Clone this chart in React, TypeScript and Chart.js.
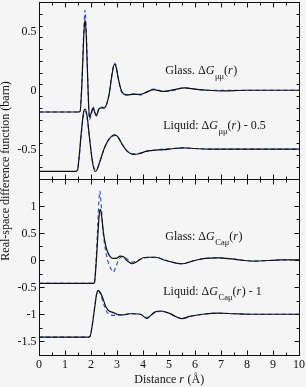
import { useEffect, useRef } from 'react';
import { Chart, registerables } from 'chart.js';
Chart.register(...registerables);

// ---- data: [r (Å), value] ----
const glassMuMuBlack: [number, number][] = [
  [0, -0.185], [1.5, -0.185], [1.58, -0.18], [1.65, 0.05], [1.72, 0.45], [1.77, 0.6], [1.82, 0.45],
  [1.88, 0.05], [1.94, -0.23], [2.0, -0.2], [2.08, -0.15], [2.15, -0.19], [2.22, -0.21], [2.3, -0.16],
  [2.4, -0.15], [2.5, -0.15], [2.6, -0.12], [2.7, -0.03], [2.8, 0.12], [2.9, 0.22], [2.95, 0.21],
  [3.05, 0.1], [3.15, 0.01], [3.25, -0.03], [3.4, -0.04], [3.6, -0.035], [3.9, -0.035], [4.1, -0.02],
  [4.4, 0.005], [4.8, -0.01], [5.2, 0.005], [5.6, 0.02], [6.0, 0.01], [6.5, 0.0], [7, -0.005],
  [8, 0.0], [9, 0.0], [10, 0.0],
];
const glassMuMuBlue: [number, number][] = [
  [0, -0.185], [1.5, -0.185], [1.58, -0.18], [1.65, 0.08], [1.72, 0.5], [1.77, 0.68], [1.82, 0.5],
  [1.88, 0.05], [1.94, -0.25], [2.0, -0.22], [2.08, -0.14], [2.15, -0.2], [2.22, -0.22], [2.3, -0.16],
  [2.4, -0.14], [2.5, -0.15], [2.6, -0.12], [2.7, -0.03], [2.8, 0.13], [2.9, 0.23], [2.95, 0.22],
  [3.05, 0.1], [3.15, 0.0], [3.25, -0.035], [3.4, -0.04], [3.6, -0.03], [3.9, -0.04], [4.1, -0.02],
  [4.4, 0.01], [4.8, -0.01], [5.2, 0.0], [5.6, 0.02], [6.0, 0.01], [6.5, 0.0], [7, 0.0],
  [8, 0.0], [9, 0.0], [10, 0.0],
];
const liquidMuMuBlack: [number, number][] = [
  [0, -0.69], [1.4, -0.69], [1.48, -0.68], [1.55, -0.55], [1.63, -0.35], [1.72, -0.18], [1.78, -0.16],
  [1.85, -0.22], [1.95, -0.42], [2.05, -0.6], [2.15, -0.69], [2.22, -0.68], [2.35, -0.6], [2.5, -0.5],
  [2.65, -0.43], [2.8, -0.39], [2.92, -0.38], [3.05, -0.4], [3.2, -0.46], [3.4, -0.52], [3.62, -0.545],
  [3.85, -0.54], [4.1, -0.52], [4.4, -0.51], [4.8, -0.505], [5.2, -0.495], [5.55, -0.49], [6.0, -0.495],
  [6.5, -0.5], [7.5, -0.5], [10, -0.5],
];
const liquidMuMuBlue: [number, number][] = [
  [0, -0.69], [1.4, -0.69], [1.48, -0.68], [1.55, -0.56], [1.63, -0.37], [1.72, -0.2], [1.78, -0.18],
  [1.85, -0.23], [1.95, -0.42], [2.05, -0.59], [2.15, -0.67], [2.22, -0.67], [2.35, -0.6], [2.5, -0.5],
  [2.65, -0.43], [2.8, -0.395], [2.92, -0.385], [3.05, -0.405], [3.2, -0.46], [3.4, -0.52], [3.62, -0.54],
  [3.85, -0.535], [4.1, -0.52], [4.4, -0.51], [4.8, -0.5], [5.2, -0.495], [5.55, -0.49], [6.0, -0.495],
  [6.5, -0.5], [7.5, -0.5], [10, -0.5],
];
const glassCaMuBlack: [number, number][] = [
  [0, -0.43], [2.1, -0.43], [2.13, -0.42], [2.2, -0.05], [2.27, 0.5], [2.32, 0.86], [2.36, 0.93],
  [2.41, 0.8], [2.48, 0.5], [2.55, 0.3], [2.62, 0.17], [2.72, 0.07], [2.84, 0.03], [2.97, 0.03],
  [3.12, 0.07], [3.25, 0.06], [3.4, -0.02], [3.6, -0.07], [3.8, -0.02], [4.0, 0.04], [4.2, 0.05],
  [4.5, 0.05], [4.8, 0.0], [5.2, -0.05], [5.5, -0.07], [5.9, -0.02], [6.4, 0.03], [6.9, 0.04],
  [7.4, 0.02], [7.9, -0.01], [8.3, -0.02], [8.8, -0.01], [9.3, 0.0], [10, 0.0],
];
const glassCaMuBlue: [number, number][] = [
  [0, -0.43], [2.1, -0.43], [2.13, -0.42], [2.19, -0.05], [2.25, 0.55], [2.3, 1.05], [2.34, 1.27],
  [2.38, 1.1], [2.45, 0.6], [2.55, 0.2], [2.65, -0.02], [2.75, -0.15], [2.86, -0.22], [2.96, -0.12],
  [3.06, 0.0], [3.18, 0.06], [3.3, 0.04], [3.45, 0.0], [3.6, -0.04], [3.8, -0.01], [4.0, 0.03],
  [4.3, 0.05], [4.6, 0.04], [4.9, -0.01], [5.2, -0.05], [5.5, -0.07], [5.9, -0.02], [6.4, 0.03],
  [6.9, 0.04], [7.4, 0.02], [7.9, -0.01], [8.3, -0.02], [8.8, -0.01], [9.3, 0.0], [10, 0.0],
];
const liquidCaMuBlack: [number, number][] = [
  [0, -1.42], [1.92, -1.42], [1.97, -1.4], [2.05, -1.2], [2.15, -0.85], [2.22, -0.62], [2.28, -0.56],
  [2.38, -0.62], [2.48, -0.74], [2.58, -0.87], [2.7, -0.94], [2.86, -0.97], [3.0, -1.0], [3.24, -1.01],
  [3.45, -0.99], [3.63, -0.99], [3.9, -1.0], [4.05, -1.05], [4.15, -1.08], [4.3, -1.02], [4.45, -0.96],
  [4.7, -0.94], [5.0, -0.98], [5.3, -1.05], [5.5, -1.08], [5.8, -1.04], [6.3, -1.0], [6.9, -0.98],
  [7.5, -0.99], [8.2, -1.0], [10, -1.0],
];
const liquidCaMuBlue: [number, number][] = [
  [0, -1.42], [1.92, -1.42], [1.97, -1.4], [2.05, -1.18], [2.15, -0.83], [2.22, -0.62], [2.28, -0.57],
  [2.38, -0.65], [2.48, -0.8], [2.58, -0.93], [2.7, -1.0], [2.86, -1.02], [3.0, -1.02], [3.24, -1.01],
  [3.45, -1.0], [3.63, -0.99], [3.9, -1.0], [4.05, -1.04], [4.15, -1.06], [4.3, -1.02], [4.45, -0.97],
  [4.7, -0.95], [5.0, -0.98], [5.3, -1.05], [5.5, -1.08], [5.8, -1.04], [6.3, -1.0], [6.9, -0.98],
  [7.5, -0.99], [8.2, -1.0], [10, -1.0],
];

const xTicks = [0, 1, 2, 3, 4, 5, 6, 7, 8, 9, 10];
const topTicks = [-0.5, 0, 0.5];
const bottomTicks = [-1.5, -1, -0.5, 0, 0.5, 1];

const SERIF = '"Liberation Serif", "Times New Roman", serif';
const BG = '#f5f5f5';
const INK = '#111111';
const BLUE = '#2646d6';

Chart.defaults.font.family = SERIF;
Chart.defaults.font.size = 12;
Chart.defaults.color = INK;

type Part = { t: string; it?: boolean; sub?: boolean };

function drawRich(ctx: CanvasRenderingContext2D, x: number, y: number, parts: Part[]) {
  ctx.textAlign = 'left';
  ctx.textBaseline = 'alphabetic';
  for (const p of parts) {
    ctx.font = `${p.it ? 'italic ' : ''}${p.sub ? 8.5 : 12}px ${SERIF}`;
    ctx.fillText(p.t, x, y + (p.sub ? 5 : 0));
    x += ctx.measureText(p.t).width + (p.it && !p.sub ? 0.5 : 0);
  }
}

const framePlugin = {
  id: 'frame',
  beforeDraw(chart: any) {
    const { ctx, width, height } = chart;
    ctx.save();
    ctx.fillStyle = BG;
    ctx.fillRect(0, 0, width, height);
    ctx.restore();
  },
  afterDraw(chart: any) {
    const { ctx } = chart;
    const xs = chart.scales.x;
    const yt = chart.scales.yt;
    const yb = chart.scales.yb;
    const L = Math.round(xs.left) + 0.5;
    const R = Math.round(xs.right) + 0.5;
    ctx.save();
    ctx.strokeStyle = INK;
    ctx.lineWidth = 1;
    const panels = [
      { s: yt, minor: 0.1, major: 0.5, min: -0.75, max: 0.75 },
      { s: yb, minor: 0.25, major: 0.5, min: -1.75, max: 1.5 },
    ];
    for (const p of panels) {
      const T = Math.round(p.s.top) + 0.5;
      const B = Math.round(p.s.bottom) + 0.5;
      ctx.strokeRect(L, T, R - L, B - T);
      ctx.beginPath();
      for (let i = 0; i <= 20; i++) {
        const v = i * 0.5;
        const px = Math.round(xs.getPixelForValue(v)) + 0.5;
        const len = i % 2 === 0 ? 5 : 3;
        ctx.moveTo(px, T); ctx.lineTo(px, T + len);
        ctx.moveTo(px, B); ctx.lineTo(px, B - len);
      }
      const n = Math.round((p.max - p.min) / p.minor);
      for (let i = 0; i <= n; i++) {
        const v = p.min + i * p.minor;
        const isMajor = Math.abs(v / p.major - Math.round(v / p.major)) < 1e-6;
        const py = Math.round(p.s.getPixelForValue(v)) + 0.5;
        const len = isMajor ? 5 : 3;
        ctx.moveTo(L, py); ctx.lineTo(L + len, py);
        ctx.moveTo(R, py); ctx.lineTo(R - len, py);
      }
      ctx.stroke();
    }
    ctx.fillStyle = INK;
    // tick labels from the scales' own ticks
    ctx.font = `12px ${SERIF}`;
    ctx.textBaseline = 'alphabetic';
    ctx.textAlign = 'right';
    for (const s of [yt, yb]) {
      for (const t of s.ticks) {
        ctx.fillText(String(t.value), L - 3, s.getPixelForValue(t.value) + 4);
      }
    }
    ctx.textAlign = 'center';
    for (const t of xs.ticks) {
      ctx.fillText(String(t.value), xs.getPixelForValue(t.value), 368);
    }

    const lx = xs.getPixelForValue(4.86);
    const lx2 = xs.getPixelForValue(4.78);
    drawRich(ctx, lx, yt.getPixelForValue(0.14), [
      { t: 'Glass. \u0394' }, { t: 'G', it: true }, { t: '\u03bc\u03bc', sub: true }, { t: '(' }, { t: 'r', it: true }, { t: ')' },
    ]);
    drawRich(ctx, lx2, yt.getPixelForValue(-0.33), [
      { t: 'Liquid: \u0394' }, { t: 'G', it: true }, { t: '\u03bc\u03bc', sub: true }, { t: '(' }, { t: 'r', it: true }, { t: ') - 0.5' },
    ]);
    drawRich(ctx, lx, yb.getPixelForValue(0.37), [
      { t: 'Glass: \u0394' }, { t: 'G', it: true }, { t: 'Ca\u03bc', sub: true }, { t: '(' }, { t: 'r', it: true }, { t: ')' },
    ]);
    drawRich(ctx, lx2, yb.getPixelForValue(-0.65), [
      { t: 'Liquid: \u0394' }, { t: 'G', it: true }, { t: 'Ca\u03bc', sub: true }, { t: '(' }, { t: 'r', it: true }, { t: ') - 1' },
    ]);
    // x title
    const xParts: Part[] = [{ t: 'Distance ' }, { t: 'r', it: true }, { t: ' (\u00c5)' }];
    let w = 0;
    for (const p of xParts) {
      ctx.font = `${p.it ? 'italic ' : ''}12px ${SERIF}`;
      w += ctx.measureText(p.t).width;
    }
    drawRich(ctx, (xs.left + xs.right) / 2 - w / 2, 383, xParts);
    // y title
    ctx.translate(6, 171);
    ctx.rotate(-Math.PI / 2);
    ctx.font = `12px ${SERIF}`;
    ctx.textAlign = 'center';
    ctx.textBaseline = 'middle';
    ctx.fillText('Real-space difference function (barn)', 0, 0);
    ctx.restore();
  },
};

const toXY = (a: [number, number][]) => a.map(([x, y]) => ({ x, y }));
const noPad = (s: any) => { s.paddingTop = 0; s.paddingBottom = 0; s.paddingLeft = 0; s.paddingRight = 0; };

export default function App() {
  const ref = useRef<HTMLCanvasElement>(null);
  useEffect(() => {
    if (!ref.current) return;
    const black = (data: [number, number][], axis: string) => ({
      data: toXY(data), yAxisID: axis, borderColor: INK, borderWidth: 1.2, pointRadius: 0,
      cubicInterpolationMode: 'monotone' as const, fill: false,
    });
    const blue = (data: [number, number][], axis: string) => ({
      data: toXY(data), yAxisID: axis, borderColor: BLUE, borderWidth: 1.1, borderDash: [4, 3], pointRadius: 0,
      cubicInterpolationMode: 'monotone' as const, fill: false,
    });
    const chart = new Chart(ref.current, {
      type: 'line',
      data: {
        datasets: [
          black(glassMuMuBlack, 'yt'), black(liquidMuMuBlack, 'yt'),
          black(glassCaMuBlack, 'yb'), black(liquidCaMuBlack, 'yb'),
          blue(glassMuMuBlue, 'yt'), blue(liquidMuMuBlue, 'yt'),
          blue(glassCaMuBlue, 'yb'), blue(liquidCaMuBlue, 'yb'),
        ],
      },
      options: {
        responsive: false,
        animation: false,
        layout: { padding: { top: 2, right: 7, bottom: 0, left: 0 } },
        plugins: { legend: { display: false }, tooltip: { enabled: false } },
        events: [],
        scales: {
          x: {
            type: 'linear', min: 0, max: 10,
            grid: { display: false, drawTicks: false }, border: { display: false },
            ticks: { display: false },
            afterBuildTicks: (s: any) => { s.ticks = xTicks.map((v) => ({ value: v })); },
            afterFit: (s: any) => { s.height = 32; noPad(s); },
          },
          yb: {
            type: 'linear', position: 'left', stack: 'panels', stackWeight: 1, min: -1.75, max: 1.5,
            grid: { display: false, drawTicks: false }, border: { display: false },
            ticks: { display: false },
            afterBuildTicks: (s: any) => { s.ticks = bottomTicks.map((v) => ({ value: v })); },
            afterFit: (s: any) => { s.width = 39; noPad(s); },
          },
          yt: {
            type: 'linear', position: 'left', stack: 'panels', stackWeight: 1, min: -0.75, max: 0.75,
            grid: { display: false, drawTicks: false }, border: { display: false },
            ticks: { display: false },
            afterBuildTicks: (s: any) => { s.ticks = topTicks.map((v) => ({ value: v })); },
            afterFit: (s: any) => { s.width = 39; noPad(s); },
          },
        },
      } as any,
      plugins: [framePlugin],
    });
    return () => chart.destroy();
  }, []);
  return (
    <div style={{ position: 'fixed', left: 0, top: 0, width: 306, height: 387, background: BG }}>
      <canvas ref={ref} width={306} height={387} style={{ display: 'block', width: 306, height: 387 }} />
    </div>
  );
}
